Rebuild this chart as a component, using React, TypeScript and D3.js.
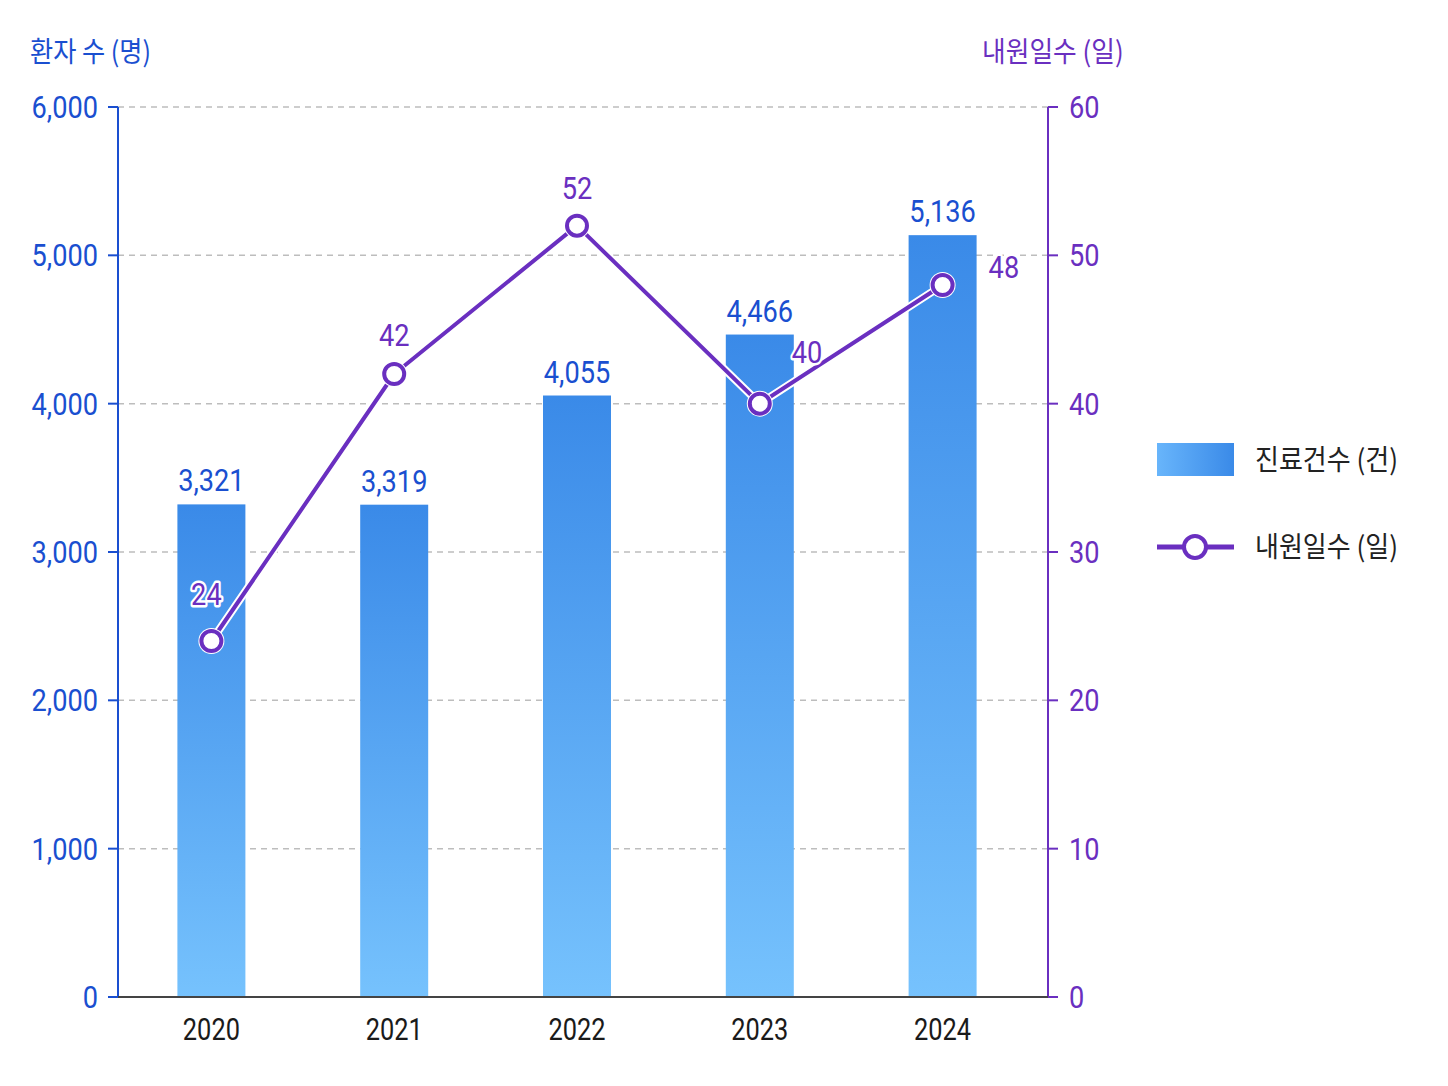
import React from 'react';
import * as d3 from 'd3';

const years = ['2020', '2021', '2022', '2023', '2024'];
const patientCounts = [3321, 3319, 4055, 4466, 5136];
const visitDays = [24, 42, 52, 40, 48];
const leftTicks = [0, 1000, 2000, 3000, 4000, 5000, 6000];
const rightTicks = [0, 10, 20, 30, 40, 50, 60];

// where each line label sits relative to its point
const dayLabelOffsets = [
  { dx: -5, dy: -36, anchor: 'middle' },
  { dx: 0, dy: -28, anchor: 'middle' },
  { dx: 0, dy: -27, anchor: 'middle' },
  { dx: 32, dy: -41, anchor: 'start' },
  { dx: 46, dy: -7, anchor: 'start' },
];

const W = 1448;
const H = 1086;
const margin = { left: 118, right: 1048, top: 107, bottom: 997 };

const BLUE = '#1a4fd0';
const PURPLE = '#6a2fc0';
const NUM_FONT = 'Roboto, "Noto Sans", sans-serif';
const KR_FONT = '"Noto Sans CJK KR", "Noto Sans", sans-serif';

const fmt = d3.format(',');

// the reference uses a narrow face; squeeze Roboto horizontally
type CondProps = {
  x: number;
  y: number;
  sx?: number;
  children: React.ReactNode;
} & Omit<React.SVGProps<SVGTextElement>, 'x' | 'y'>;

const CondText = ({ x, y, sx = 0.85, children, ...rest }: CondProps) => (
  <text transform={`translate(${x},${y}) scale(${sx},1)`} {...rest}>
    {children}
  </text>
);

export default function App() {
  const x = d3
    .scalePoint<string>()
    .domain(years)
    .range([120, 1034])
    .padding(0.5);
  const yLeft = d3.scaleLinear().domain([0, 6000]).range([margin.bottom, margin.top]);
  const yRight = d3.scaleLinear().domain([0, 60]).range([margin.bottom, margin.top]);
  const barWidth = 68;

  const line = d3
    .line<number>()
    .x((_, i) => x(years[i]) as number)
    .y((d) => yRight(d));
  const linePath = line(visitDays) ?? '';

  return (
    <svg
      width={W}
      height={H}
      style={{ position: 'absolute', left: 0, top: 0, background: '#fff' }}
    >
      <defs>
        <linearGradient id="barGrad" x1="0" y1="0" x2="0" y2="1">
          <stop offset="0%" stopColor="#3a8ae8" />
          <stop offset="100%" stopColor="#76c2fd" />
        </linearGradient>
        <linearGradient id="legendGrad" x1="0" y1="0" x2="1" y2="0">
          <stop offset="0%" stopColor="#68b5fb" />
          <stop offset="100%" stopColor="#3a8ae8" />
        </linearGradient>
      </defs>

      {/* grid */}
      {leftTicks
        .filter((t) => t > 0)
        .map((t) => (
          <line
            key={`g${t}`}
            x1={margin.left}
            x2={margin.right}
            y1={yLeft(t)}
            y2={yLeft(t)}
            stroke="#bdbdbd"
            strokeWidth={1.5}
            strokeDasharray="6 5"
          />
        ))}

      {/* bars */}
      {patientCounts.map((v, i) => {
        const cx = x(years[i]) as number;
        return (
          <g key={`b${i}`}>
            <rect
              x={cx - barWidth / 2}
              y={yLeft(v)}
              width={barWidth}
              height={margin.bottom - yLeft(v)}
              fill="url(#barGrad)"
            />
            <CondText
              x={cx}
              y={yLeft(v) - 13}
              textAnchor="middle"
              fill={BLUE}
              fontFamily={NUM_FONT}
              fontSize={32}
            >
              {fmt(v)}
            </CondText>
          </g>
        );
      })}

      {/* left axis */}
      <line x1={margin.left} x2={margin.left} y1={margin.top} y2={margin.bottom} stroke={BLUE} strokeWidth={2} />
      {leftTicks.map((t) => (
        <g key={`l${t}`}>
          <line x1={margin.left - 10} x2={margin.left} y1={yLeft(t)} y2={yLeft(t)} stroke={BLUE} strokeWidth={2} />
          <CondText
            x={margin.left - 20}
            y={yLeft(t) + 11}
            textAnchor="end"
            fill={BLUE}
            fontFamily={NUM_FONT}
            fontSize={32}
          >
            {fmt(t)}
          </CondText>
        </g>
      ))}

      {/* right axis */}
      <line x1={margin.right} x2={margin.right} y1={margin.top} y2={margin.bottom} stroke={PURPLE} strokeWidth={2} />
      {rightTicks.map((t) => (
        <g key={`r${t}`}>
          <line x1={margin.right} x2={margin.right + 10} y1={yRight(t)} y2={yRight(t)} stroke={PURPLE} strokeWidth={2} />
          <CondText
            x={margin.right + 21}
            y={yRight(t) + 11}
            fill={PURPLE}
            fontFamily={NUM_FONT}
            fontSize={32}
          >
            {t}
          </CondText>
        </g>
      ))}

      {/* bottom axis */}
      <line x1={margin.left} x2={margin.right} y1={margin.bottom} y2={margin.bottom} stroke="#444" strokeWidth={2} />
      {years.map((yr) => (
        <CondText
          key={`x${yr}`}
          x={x(yr) as number}
          y={margin.bottom + 43}
          textAnchor="middle"
          fill="#1a1a1a"
          fontFamily={NUM_FONT}
          fontSize={31}
          sx={0.82}
        >
          {yr}
        </CondText>
      ))}

      {/* axis titles */}
      <CondText x={30} y={62} sx={0.9} fill={BLUE} fontFamily={KR_FONT} fontSize={28}>
        환자 수 (명)
      </CondText>
      <CondText x={982} y={62} sx={0.92} fill={PURPLE} fontFamily={KR_FONT} fontSize={28}>
        내원일수 (일)
      </CondText>

      {/* line series */}
      <path d={linePath} fill="none" stroke="#fff" strokeWidth={8} strokeLinejoin="round" />
      <path d={linePath} fill="none" stroke={PURPLE} strokeWidth={4} strokeLinejoin="round" />
      {visitDays.map((v, i) => {
        const cx = x(years[i]) as number;
        const cy = yRight(v);
        const o = dayLabelOffsets[i];
        return (
          <g key={`p${i}`}>
            <circle cx={cx} cy={cy} r={13} fill="#fff" />
            <circle cx={cx} cy={cy} r={10} fill="#fff" stroke={PURPLE} strokeWidth={4} />
            <CondText
              x={cx + o.dx}
              y={cy + o.dy}
              textAnchor={o.anchor as 'start' | 'middle'}
              fill={PURPLE}
              stroke="#fff"
              strokeWidth={5}
              paintOrder="stroke"
              strokeLinejoin="round"
              fontFamily={NUM_FONT}
              fontSize={32}
            >
              {v}
            </CondText>
          </g>
        );
      })}

      {/* legend */}
      <rect x={1157} y={443} width={77} height={33} fill="url(#legendGrad)" />
      <CondText x={1255} y={470} sx={0.93} fill="#222" fontFamily={KR_FONT} fontSize={28}>
        진료건수 (건)
      </CondText>
      <line x1={1157} x2={1234} y1={547} y2={547} stroke={PURPLE} strokeWidth={5} />
      <circle cx={1195} cy={547} r={11} fill="#fff" stroke={PURPLE} strokeWidth={4} />
      <CondText x={1255} y={557} sx={0.93} fill="#222" fontFamily={KR_FONT} fontSize={28}>
        내원일수 (일)
      </CondText>
    </svg>
  );
}
